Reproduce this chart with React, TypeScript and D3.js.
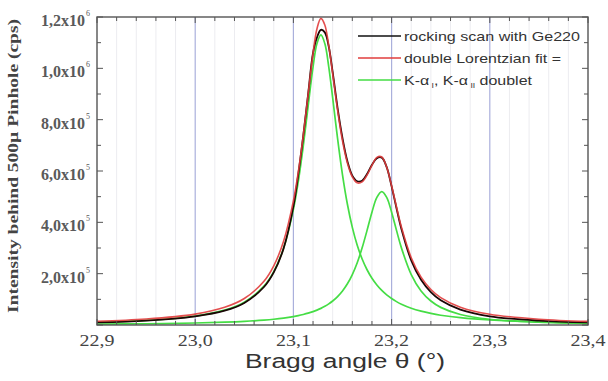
import React from "react";
import * as d3 from "d3";

// Bragg angle samples (degrees)
const angles = [22.90, 22.95, 23.00, 23.03, 23.05, 23.07, 23.08, 23.09, 23.10, 23.105, 23.11, 23.115, 23.12, 23.124, 23.128, 23.132, 23.136, 23.14, 23.145, 23.15, 23.155, 23.16, 23.165, 23.17, 23.175, 23.18, 23.185, 23.19, 23.195, 23.20, 23.205, 23.21, 23.22, 23.23, 23.24, 23.25, 23.27, 23.30, 23.35, 23.40];

// rocking scan with Ge220 (cps)
const scan = [0.010e6, 0.017e6, 0.034e6, 0.056e6, 0.086e6, 0.148e6, 0.205e6, 0.298e6, 0.462e6, 0.588e6, 0.736e6, 0.900e6, 1.060e6, 1.120e6, 1.150e6, 1.140e6, 1.085e6, 0.985e6, 0.845e6, 0.728e6, 0.638e6, 0.582e6, 0.560e6, 0.562e6, 0.588e6, 0.624e6, 0.650e6, 0.652e6, 0.615e6, 0.540e6, 0.455e6, 0.374e6, 0.252e6, 0.176e6, 0.128e6, 0.096e6, 0.060e6, 0.034e6, 0.017e6, 0.010e6];

// double Lorentzian fit (cps)
const fit = [0.0146e6, 0.0231e6, 0.0425e6, 0.0689e6, 0.1031e6, 0.1703e6, 0.2305e6, 0.3261e6, 0.4835e6, 0.5967e6, 0.7371e6, 0.8989e6, 1.0584e6, 1.1544e6, 1.1948e6, 1.1691e6, 1.0883e6, 0.9783e6, 0.8370e6, 0.7178e6, 0.6310e6, 0.5772e6, 0.5538e6, 0.5577e6, 0.5839e6, 0.6219e6, 0.6532e6, 0.6546e6, 0.6146e6, 0.5427e6, 0.4597e6, 0.3816e6, 0.2621e6, 0.1864e6, 0.1384e6, 0.1068e6, 0.0694e6, 0.0420e6, 0.0227e6, 0.0143e6];

// K-alpha I component (cps)
const kAlpha1 = [0.0112e6, 0.0182e6, 0.0348e6, 0.0580e6, 0.0890e6, 0.1513e6, 0.2080e6, 0.2991e6, 0.4506e6, 0.5600e6, 0.6961e6, 0.8528e6, 1.0061e6, 1.0963e6, 1.1300e6, 1.0963e6, 1.0061e6, 0.8849e6, 0.7263e6, 0.5852e6, 0.4704e6, 0.3805e6, 0.3110e6, 0.2572e6, 0.2153e6, 0.1822e6, 0.1559e6, 0.1346e6, 0.1173e6, 0.1030e6, 0.0911e6, 0.0811e6, 0.0654e6, 0.0538e6, 0.0450e6, 0.0381e6, 0.0284e6, 0.0195e6, 0.0118e6, 0.0079e6];

// K-alpha II component (cps)
const kAlpha2 = [0.0034e6, 0.0049e6, 0.0078e6, 0.0109e6, 0.0141e6, 0.0191e6, 0.0225e6, 0.0270e6, 0.0329e6, 0.0366e6, 0.0410e6, 0.0461e6, 0.0523e6, 0.0581e6, 0.0648e6, 0.0728e6, 0.0822e6, 0.0934e6, 0.1107e6, 0.1326e6, 0.1606e6, 0.1967e6, 0.2428e6, 0.3005e6, 0.3686e6, 0.4397e6, 0.4973e6, 0.5200e6, 0.4973e6, 0.4397e6, 0.3686e6, 0.3005e6, 0.1967e6, 0.1326e6, 0.0934e6, 0.0687e6, 0.0410e6, 0.0225e6, 0.0109e6, 0.0064e6];

const xTickValues = [22.9, 23.0, 23.1, 23.2, 23.3, 23.4];
const yTickValues = [2e5, 4e5, 6e5, 8e5, 1e6, 1.2e6];

const legendLabels = ["rocking scan with Ge220", "double Lorentzian fit =", "K-α I, K-α II doublet"];

const W = 608, H = 381;
const M = { left: 97, right: 588, top: 17, bottom: 325 };

export default function App() {
  const x = d3.scaleLinear().domain([22.9, 23.4]).range([M.left, M.right]);
  const y = d3.scaleLinear().domain([0, 1.2e6]).range([M.bottom, M.top]);

  const mk = (vals: number[]) =>
    d3.line<number>()
      .x((_, i) => x(angles[i]))
      .y((v) => y(v))
      .curve(d3.curveCatmullRom.alpha(0.5))(vals) || "";

  const minorX = d3.range(0, 26).map((i) => 22.9 + i * 0.02);
  const minorY = d3.range(0, 13).map((i) => i * 1e5);

  const fmtX = (v: number) => d3.format(".1f")(v).replace(".", ",");
  const mant = (v: number) => {
    const e = Math.floor(Math.log10(v) + 1e-9);
    return { m: (v / Math.pow(10, e)).toFixed(1).replace(".", ","), e };
  };

  const serif = "'Liberation Serif', 'Times New Roman', serif";
  const sans = "'Liberation Sans', Arial, sans-serif";
  const green = "#45dd45";
  const red = "#e03c3c";

  const legY = [36, 58, 80];
  const legColors = ["#111", red, green];
  const legLen = [176, 157, 128];

  return (
    <svg width={W} height={H} style={{ position: "absolute", left: 0, top: 0, background: "#fff" }}>
      {/* light grid */}
      {minorX.map((v, i) => {
        const major = i % 5 === 0;
        if (major) return null;
        return <line key={"g" + i} x1={x(v)} x2={x(v)} y1={M.top} y2={M.bottom} stroke="#ececf0" strokeWidth={1} />;
      })}
      {xTickValues.slice(1, -1).map((v) => (
        <line key={"b" + v} x1={x(v)} x2={x(v)} y1={M.top} y2={M.bottom} stroke="#aab0dc" strokeWidth={1.2} />
      ))}

      {/* curves */}
      <path d={mk(kAlpha1)} fill="none" stroke={green} strokeWidth={1.7} />
      <path d={mk(kAlpha2)} fill="none" stroke={green} strokeWidth={1.7} />
      <path d={mk(scan)} fill="none" stroke="#1a0505" strokeWidth={1.8} />
      <path d={mk(fit)} fill="none" stroke={red} strokeWidth={1.6} strokeOpacity={0.9} />

      {/* frame */}
      <rect x={M.left} y={M.top} width={M.right - M.left} height={M.bottom - M.top} fill="none" stroke="#555" strokeWidth={1.4} />

      {/* x ticks (top and bottom, inward) */}
      {minorX.map((v, i) => {
        const len = i % 5 === 0 ? 6 : 4;
        return (
          <g key={"xt" + i} stroke="#555" strokeWidth={1}>
            <line x1={x(v)} x2={x(v)} y1={M.bottom} y2={M.bottom - len} />
            <line x1={x(v)} x2={x(v)} y1={M.top} y2={M.top + len} />
          </g>
        );
      })}
      {/* y ticks (left and right, inward) */}
      {minorY.map((v, i) => {
        const len = i % 2 === 0 ? 6 : 4;
        return (
          <g key={"yt" + i} stroke="#555" strokeWidth={1}>
            <line x1={M.left} x2={M.left + len} y1={y(v)} y2={y(v)} />
            <line x1={M.right} x2={M.right - len} y1={y(v)} y2={y(v)} />
          </g>
        );
      })}

      {/* x tick labels */}
      {xTickValues.map((v) => (
        <text key={"xl" + v} x={x(v)} y={346} textAnchor="middle" fontFamily={serif} fontSize={17} fill="#444" textLength={35} lengthAdjust="spacingAndGlyphs">
          {fmtX(v)}
        </text>
      ))}

      {/* y tick labels */}
      {yTickValues.map((v) => {
        const { m, e } = mant(v);
        return (
          <g key={"yl" + v}>
            <text x={85} y={y(v) + 9} textAnchor="end" fontFamily={serif} fontSize={16} fill="#5a5a5a" fontWeight="bold">
              {m + "x10"}
            </text>
            <text x={86} y={y(v) - 1} fontFamily={serif} fontSize={8} fill="#5a5a5a">
              {e}
            </text>
          </g>
        );
      })}

      {/* axis titles */}
      <text x={345} y={368} textAnchor="middle" fontFamily={sans} fontSize={20} fill="#333" textLength={200} lengthAdjust="spacingAndGlyphs">
        Bragg angle θ  (°)
      </text>
      <text
        transform={`translate(18,${166}) rotate(-90)`}
        textAnchor="middle"
        fontFamily={serif}
        fontSize={15}
        fill="#444"
        fontWeight="bold"
        textLength={294}
        lengthAdjust="spacingAndGlyphs"
      >
        Intensity behind 500µ Pinhole (cps)
      </text>

      {/* legend */}
      {legendLabels.map((lab, i) => (
        <g key={"lg" + i}>
          <line x1={358} x2={401} y1={legY[i]} y2={legY[i]} stroke={legColors[i]} strokeWidth={1.6} />
          {i < 2 ? (
            <text x={404} y={legY[i] + 4.5} fontFamily={sans} fontSize={13} fill="#333" textLength={legLen[i]} lengthAdjust="spacingAndGlyphs">
              {lab}
            </text>
          ) : (
            <text x={404} y={legY[i] + 4.5} fontFamily={sans} fontSize={13} fill="#333" textLength={legLen[i]} lengthAdjust="spacingAndGlyphs">
              <tspan>K-α</tspan>
              <tspan fontSize={7} dy={3}> I</tspan>
              <tspan dy={-3}>, K-α</tspan>
              <tspan fontSize={7} dy={3}> II</tspan>
              <tspan dy={-3}> doublet</tspan>
            </text>
          )}
        </g>
      ))}
    </svg>
  );
}
